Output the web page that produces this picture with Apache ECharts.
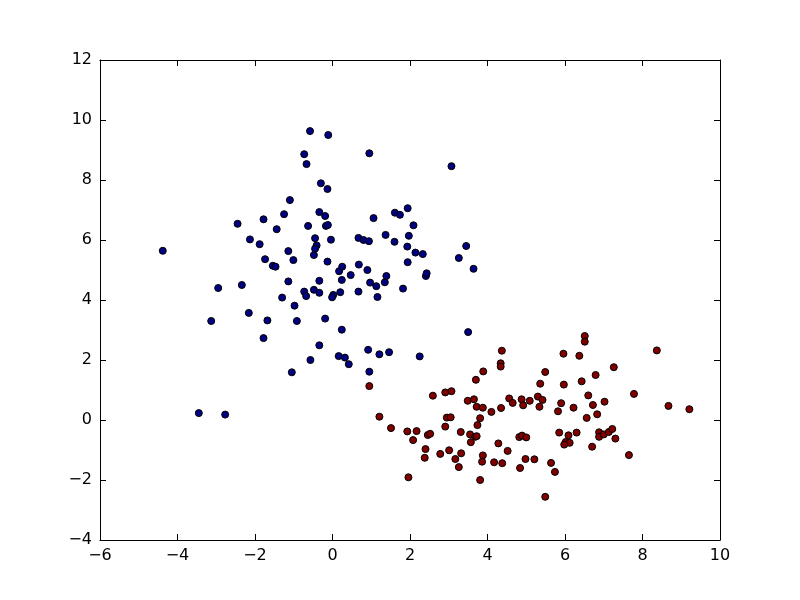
<!DOCTYPE html>
<html>
<head>
<meta charset="utf-8">
<script src="https://cdn.jsdelivr.net/npm/echarts@6/dist/echarts.min.js"></script>
<style>html,body{margin:0;padding:0;background:#fff}#c{width:800px;height:600px}</style>
</head>
<body>
<div id="c"></div>
<script>
const blueX = [-4.38,-3.45,-2.77,-3.13,-2.95,-2.45,-2.34,-2.13,-2.16,-1.88,-1.78,-1.74,-1.68,-1.78,-1.54,-1.47,-1.44,-1.30,-1.25,-1.10,-1.14,-1.14,-1.05,-1.01,-0.98,-0.92,-0.73,-0.68,-0.73,-0.67,-0.58,-0.63,-0.57,-0.48,-0.48,-0.45,-0.41,-0.45,-0.34,-0.34,-0.34,-0.30,-0.34,-0.19,-0.17,-0.12,-0.13,-0.11,-0.19,-0.13,-0.04,0.02,-0.01,0.17,0.25,0.20,0.24,0.16,0.24,0.32,0.42,0.47,0.67,0.68,0.67,0.80,0.94,0.90,0.97,0.95,0.92,0.95,1.06,1.13,1.16,1.21,1.35,1.39,1.37,1.46,1.60,1.61,1.74,1.82,1.97,1.93,1.94,1.94,2.09,2.14,2.33,2.25,2.41,2.43,3.07,3.26,3.45,3.50,3.64];
const blueY = [5.64,0.23,0.18,3.30,4.40,6.54,4.50,6.02,3.57,5.86,6.69,5.36,3.32,2.73,5.14,5.11,6.36,4.08,6.86,7.33,5.63,4.62,1.59,5.33,3.81,3.30,4.28,4.13,8.86,8.53,9.63,6.47,2.00,5.50,4.34,6.06,5.82,5.71,4.24,4.64,6.93,7.89,2.49,6.80,6.47,6.50,7.70,9.50,3.38,5.28,6.01,4.17,4.09,4.96,5.11,4.26,4.67,2.13,3.01,2.08,1.86,4.83,6.07,5.18,4.28,6.00,5.96,5.00,4.58,8.89,2.34,1.61,6.73,4.46,4.10,2.19,4.59,4.80,6.17,2.26,5.94,6.91,6.84,4.38,6.14,5.78,5.26,7.06,6.49,5.58,5.53,2.12,4.80,4.89,8.46,5.40,5.80,2.93,5.04];
const redX = [0.95,1.21,1.51,1.93,2.17,2.08,1.96,2.46,2.52,2.40,2.38,2.59,2.91,3.07,2.95,3.05,2.91,2.78,3.01,3.17,3.26,3.32,3.31,3.49,3.65,3.72,3.88,3.81,3.74,3.55,3.68,3.72,3.57,3.70,3.89,4.34,4.34,4.37,4.10,4.35,4.56,4.65,4.88,4.92,5.09,5.30,5.42,5.34,5.36,5.49,3.88,3.86,3.81,4.17,4.38,4.28,4.52,4.82,4.89,5.00,4.98,5.21,4.84,5.64,5.74,5.49,5.96,6.37,6.51,6.51,5.97,6.43,6.79,7.26,8.37,7.78,5.90,5.82,6.22,6.60,6.72,7.02,6.56,6.83,8.67,9.21,5.85,6.09,6.30,6.02,6.12,5.98,6.88,6.88,7.00,7.13,7.22,7.30,6.70,7.65];
const redY = [1.13,0.11,-0.27,-0.38,-0.37,-0.67,-1.91,-0.50,-0.46,-0.97,-1.26,0.81,0.92,0.96,0.08,0.09,-0.22,-1.13,-1.01,-1.30,-1.57,-1.11,-0.40,0.64,0.69,0.44,0.41,0.06,-0.17,-0.48,-0.56,-0.54,-0.74,1.34,1.62,1.89,1.78,2.31,0.27,0.40,0.72,0.57,0.69,0.49,0.64,0.78,0.67,0.44,1.21,1.60,-1.18,-1.39,-2.00,-1.41,-1.44,-0.78,-1.03,-0.57,-0.52,-0.58,-1.30,-1.31,-1.60,-1.43,-1.73,-2.56,2.21,2.14,2.80,2.61,1.18,1.29,1.50,1.76,2.32,0.87,0.56,0.29,0.41,0.82,0.50,0.61,0.07,0.19,0.47,0.36,-0.42,-0.51,-0.42,-0.73,-0.76,-0.82,-0.41,-0.56,-0.48,-0.40,-0.30,-0.62,-0.89,-1.17];
const xTicks = [-6,-4,-2,0,2,4,6,8,10];
const yTicks = [-4,-2,0,2,4,6,8,10,12];

const zip = (a,b) => a.map((v,i)=>[v,b[i]]);
const fmt = v => String(v).replace('-', '\u2212');
const tickStyle = {show:true, inside:true, length:6, lineStyle:{color:'#000', width:1}};
const base = (type) => ({
  type:'value', interval:2,
  min: type==='x' ? xTicks[0] : yTicks[0],
  max: type==='x' ? xTicks[xTicks.length-1] : yTicks[yTicks.length-1],
  splitLine:{show:false},
  axisLine:{show:true, onZero:false, lineStyle:{color:'#000', width:1}},
  axisTick: tickStyle
});
const chart = echarts.init(document.getElementById('c'), null, {renderer:'canvas'});
chart.setOption({
  animation:false,
  backgroundColor:'#fff',
  grid:{left:100, right:80, top:60, bottom:60, show:false},
  xAxis:[
    Object.assign(base('x'), {position:'bottom', axisLabel:{show:true, color:'#000', fontFamily:'DejaVu Sans', fontSize:16, margin:8, formatter:fmt}}),
    Object.assign(base('x'), {position:'top', axisLabel:{show:false}})
  ],
  yAxis:[
    Object.assign(base('y'), {position:'left', axisLabel:{show:true, color:'#000', fontFamily:'DejaVu Sans', fontSize:16, margin:8, formatter:fmt}}),
    Object.assign(base('y'), {position:'right', axisLabel:{show:false}})
  ],
  series:[
    {type:'scatter', data:zip(blueX, blueY), symbolSize:7, itemStyle:{color:'#000080', borderColor:'#000', borderWidth:1, opacity:1}},
    {type:'scatter', data:zip(redX, redY), symbolSize:7, itemStyle:{color:'#800000', borderColor:'#000', borderWidth:1, opacity:1}}
  ]
});
</script>
</body>
</html>
